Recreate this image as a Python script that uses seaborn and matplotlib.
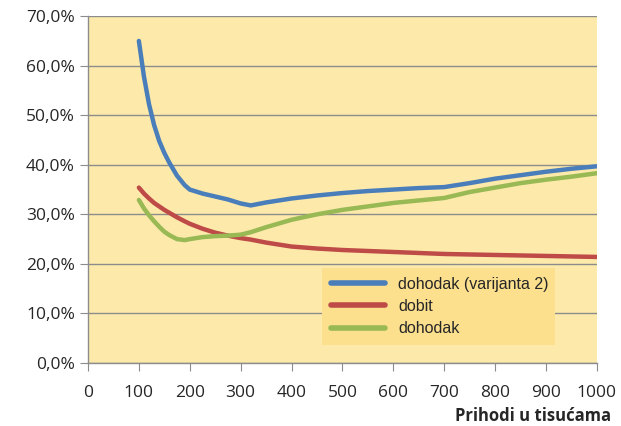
import numpy as np
import pandas as pd
import matplotlib
matplotlib.use("Agg")
import matplotlib.pyplot as plt
import seaborn as sns
from matplotlib.ticker import FuncFormatter

# ── Data ──────────────────────────────────────────────────────────────────────
prihodi = [100, 110, 120, 130, 140, 150, 160, 175, 190, 200, 225, 250, 275,
           300, 320, 350, 400, 450, 500, 550, 600, 650, 700, 750, 800, 850,
           900, 950, 1000]

dohodak_v2 = [65.0, 57.8, 52.2, 48.0, 44.8, 42.4, 40.4, 37.8, 35.9, 35.0,
              34.2, 33.6, 33.0, 32.2, 31.8, 32.4, 33.2, 33.8, 34.3, 34.7,
              35.0, 35.3, 35.5, 36.3, 37.2, 37.9, 38.6, 39.2, 39.7]

dobit = [35.4, 34.2, 33.2, 32.3, 31.6, 30.9, 30.3, 29.4, 28.6, 28.1, 27.1,
         26.3, 25.7, 25.2, 24.9, 24.3, 23.5, 23.1, 22.8, 22.6, 22.4, 22.2,
         22.0, 21.9, 21.8, 21.7, 21.6, 21.5, 21.4]

dohodak = [32.9, 31.2, 29.8, 28.6, 27.5, 26.5, 25.8, 25.0, 24.8, 25.0, 25.4,
           25.6, 25.7, 25.9, 26.4, 27.4, 28.9, 30.0, 30.9, 31.6, 32.3, 32.8,
           33.3, 34.5, 35.4, 36.3, 37.0, 37.6, 38.3]

series_names = ["dohodak (varijanta 2)", "dobit", "dohodak"]
series_colors = ["#4A7EBB", "#BE4B48", "#98B954"]

df = pd.DataFrame({
    "prihodi": prihodi * 3,
    "udio": dohodak_v2 + dobit + dohodak,
    "serija": np.repeat(series_names, len(prihodi)),
})

# ── Plot ──────────────────────────────────────────────────────────────────────
sns.set_style("white")
plt.rcParams["font.family"] = ["Open Sans", "DejaVu Sans"]

fig = plt.figure(figsize=(6.21, 4.26), dpi=100)
ax = fig.add_axes([0.1417, 0.148, 0.8193, 0.814])
ax.set_facecolor("#FDEAAA")

sns.lineplot(data=df, x="prihodi", y="udio", hue="serija",
             hue_order=series_names, palette=series_colors,
             linewidth=3.2, ax=ax)

ax.set_xlim(0, 1000)
ax.set_ylim(0, 70)
ax.set_xticks(range(0, 1001, 100))
ax.set_yticks(range(0, 71, 10))
ax.yaxis.set_major_formatter(FuncFormatter(lambda v, _: f"{v:.1f}%".replace(".", ",")))
ax.grid(axis="y", color="#8C8C8C", linewidth=1)
ax.set_axisbelow(True)

for side in ["top", "right"]:
    ax.spines[side].set_visible(False)
for side in ["left", "bottom"]:
    ax.spines[side].set_color("#8C8C8C")
    ax.spines[side].set_linewidth(1)

ax.tick_params(axis="x", length=6, color="#8C8C8C", pad=10, labelsize=12.5,
               direction="out", bottom=True)
ax.tick_params(axis="y", length=6, color="#8C8C8C", labelsize=12.5,
               direction="out", left=True)

ax.set_ylabel("")
ax.set_xlabel("Prihodi u tisućama", fontsize=12, fontweight="bold",
              labelpad=1)
ax.xaxis.set_label_coords(1.028, -0.128)
ax.xaxis.label.set_horizontalalignment("right")

handles, labels = ax.get_legend_handles_labels()
for h in handles:
    h.set_linewidth(4)
leg = ax.legend(handles, labels, loc="upper left",
                bbox_to_anchor=(0.46, 0.058, 0.457, 0.216), mode="expand",
                frameon=True, fancybox=False,
                prop={"family": "Liberation Sans", "size": 11.5},
                handlelength=3.4, borderpad=0.55, labelspacing=0.45,
                borderaxespad=0)
leg.get_frame().set_facecolor("#FCE08E")
leg.get_frame().set_edgecolor("none")
leg.get_frame().set_alpha(1)

fig.savefig("out.png", dpi=100)
